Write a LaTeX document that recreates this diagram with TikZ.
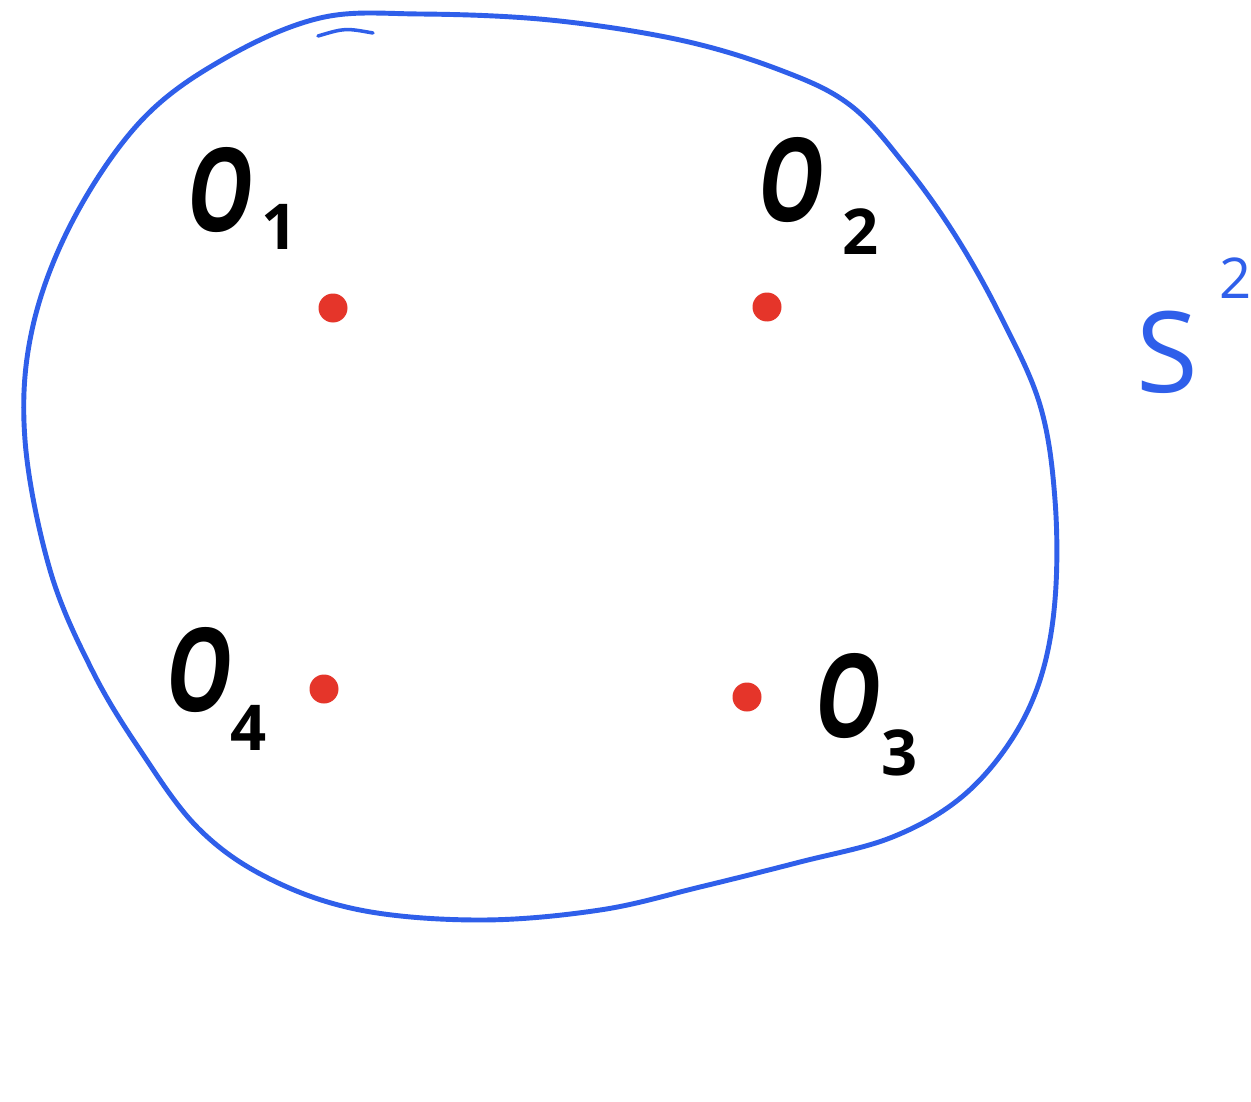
\documentclass[tikz,border=0pt]{standalone}
\usepackage{fontspec}
\setmainfont{Open Sans}
\definecolor{skblue}{HTML}{2F5FEA}
\definecolor{skred}{HTML}{E5352A}
\newcommand{\narrowO}{\scalebox{0.72}[1]{O}}
\begin{document}
\begin{tikzpicture}[x=0.02cm,y=-0.02cm,
  blob/.style={draw=skblue,line width=2.8pt,line cap=round,line join=round},
  pt/.style={circle,fill=skred,inner sep=0pt,minimum size=0.58cm},
  big/.style={font=\fontsize{66}{70}\selectfont\bfseries,inner sep=0pt,xslant=0.12,transform shape},
  sub/.style={font=\fontsize{36}{40}\selectfont\bfseries,inner sep=0pt},
  bigblue/.style={font=\fontsize{64}{70}\selectfont,text=skblue,inner sep=0pt},
  subblue/.style={font=\fontsize{32}{36}\selectfont,text=skblue,inner sep=0pt}]
\useasboundingbox (0,0) rectangle (1251,1102);
\fill[white] (0,0) rectangle (1251,1102);
% outline of the sphere
\draw[blob] plot[smooth cycle,tension=0.6] coordinates {
 (320,18) (420,14) (550,20) (680,40) (780,70) (850,105) (905,165)
 (955,235) (1000,315) (1040,405) (1055,500) (1055,600) (1040,680)
 (1008,745) (958,800) (890,838) (800,862) (700,887) (600,910)
 (480,920) (360,910) (268,878) (198,828) (140,750) (92,670)
 (50,570) (25,440) (32,330) (72,222) (140,122) (222,60)};
\draw[blob,line width=2pt] (318,36) .. controls (345,28) .. (373,33);
% points
\node[pt] (p1) at (333,308) {};
\node[pt] (p2) at (767,307) {};
\node[pt] (p4) at (324,689) {};
\node[pt] (p3) at (747,697) {};
% labels
\node[big] (o1) at (222,190) {\narrowO};
\node[sub] (s1) at (280,227) {1};
\node[big] (o2) at (793,180) {\narrowO};
\node[sub] (s2) at (861,232) {2};
\node[big] (o4) at (201,670) {\narrowO};
\node[sub] (s4) at (249,728) {4};
\node[big] (o3) at (850,696) {\narrowO};
\node[sub] (s3) at (900,753) {3};
\node[bigblue] (sS) at (1167,352) {S};
\node[subblue] (s22) at (1236,278) {2};
\end{tikzpicture}
\end{document}
